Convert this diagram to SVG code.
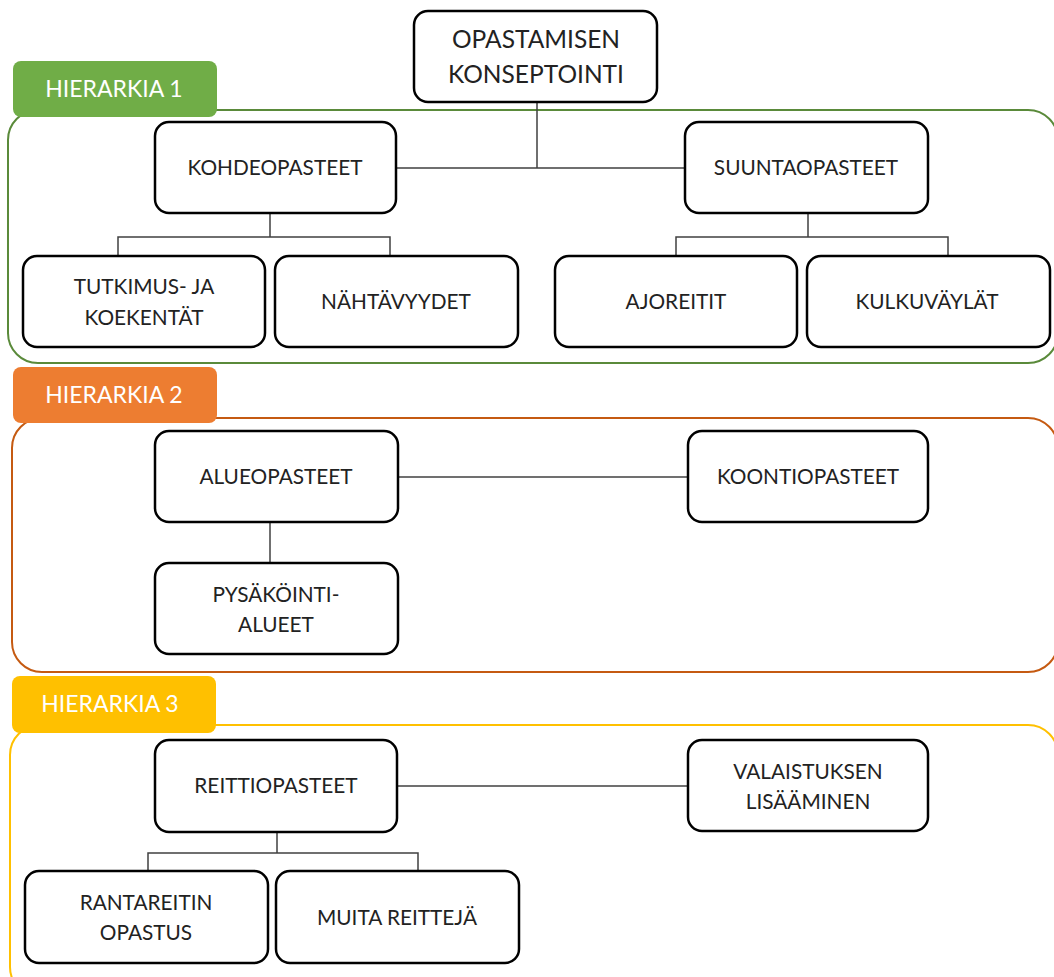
<svg xmlns="http://www.w3.org/2000/svg" width="1054" height="977" viewBox="0 0 1054 977">
<style>
.bg{fill:#ffffff}
.cont{fill:none;stroke-width:2}
.tab{stroke:none}
.tabtxt{font-family:Lato,"Liberation Sans",sans-serif;font-size:23px;fill:#ffffff;text-anchor:middle}
.node rect{fill:#ffffff;stroke:#000000;stroke-width:2.5}
.node text{font-family:Lato,"Liberation Sans",sans-serif;font-size:20.8px;fill:#222222;text-anchor:middle}
.big text{font-size:24.5px}
.conn{fill:none;stroke:#404040;stroke-width:1.5}
</style>
<rect class="bg" x="0" y="0" width="1054" height="977"/>
<g id="containers">
<rect class="cont" x="8" y="110" width="1050" height="253" rx="30" stroke="#5a8a3a"/>
<rect class="cont" x="12" y="418" width="1046" height="254" rx="30" stroke="#c55a11"/>
<rect class="cont" x="10" y="725" width="1048" height="272" rx="30" stroke="#ffc000"/>
</g>
<g id="tab1"><rect class="tab" x="13" y="61" width="204" height="56" rx="8" fill="#70ad47"/><text class="tabtxt" x="114" y="97">HIERARKIA 1</text></g>
<g id="tab2"><rect class="tab" x="13" y="367" width="204" height="56" rx="8" fill="#ed7d31"/><text class="tabtxt" x="114" y="403">HIERARKIA 2</text></g>
<g id="tab3"><rect class="tab" x="12" y="676" width="204" height="57" rx="8" fill="#ffc000"/><text class="tabtxt" x="110" y="712">HIERARKIA 3</text></g>
<g id="connectors">
<path class="conn" d="M537 102 V168 M395 168 H685"/>
<path class="conn" d="M270 213 V237 M118 255 V237 H390 V255"/>
<path class="conn" d="M808 213 V237 M676 255 V237 H948 V255"/>
<path class="conn" d="M398 477 H688"/>
<path class="conn" d="M270 522 V563"/>
<path class="conn" d="M397 786 H688"/>
<path class="conn" d="M277 832 V853 M148 871 V853 H418 V871"/>
</g>
<g id="n-opastamisen" class="node big"><rect x="414" y="11" width="243" height="91" rx="14"/><text x="536" y="48">OPASTAMISEN</text><text x="536" y="83">KONSEPTOINTI</text></g>
<g id="n-kohdeopasteet" class="node"><rect x="155" y="122" width="241" height="91" rx="14"/><text x="275" y="175">KOHDEOPASTEET</text></g>
<g id="n-suuntaopasteet" class="node"><rect x="685" y="122" width="243" height="91" rx="14"/><text x="806" y="175">SUUNTAOPASTEET</text></g>
<g id="n-tutkimus" class="node"><rect x="23" y="256" width="242" height="91" rx="14"/><text x="144" y="294">TUTKIMUS- JA</text><text x="144" y="325">KOEKENTÄT</text></g>
<g id="n-nahtavyydet" class="node"><rect x="275" y="256" width="243" height="91" rx="14"/><text x="396" y="309">NÄHTÄVYYDET</text></g>
<g id="n-ajoreitit" class="node"><rect x="555" y="256" width="242" height="91" rx="14"/><text x="676" y="309">AJOREITIT</text></g>
<g id="n-kulkuvaylat" class="node"><rect x="807" y="256" width="243" height="91" rx="14"/><text x="927" y="309">KULKUVÄYLÄT</text></g>
<g id="n-alueopasteet" class="node"><rect x="155" y="431" width="243" height="91" rx="14"/><text x="276" y="484">ALUEOPASTEET</text></g>
<g id="n-koontiopasteet" class="node"><rect x="688" y="431" width="240" height="91" rx="14"/><text x="808" y="484">KOONTIOPASTEET</text></g>
<g id="n-pysakointi" class="node"><rect x="155" y="563" width="243" height="91" rx="14"/><text x="276" y="602">PYSÄKÖINTI-</text><text x="276" y="632">ALUEET</text></g>
<g id="n-reittiopasteet" class="node"><rect x="155" y="740" width="242" height="92" rx="14"/><text x="276" y="793">REITTIOPASTEET</text></g>
<g id="n-valaistuksen" class="node"><rect x="688" y="740" width="240" height="91" rx="14"/><text x="808" y="779">VALAISTUKSEN</text><text x="808" y="809">LISÄÄMINEN</text></g>
<g id="n-rantareitin" class="node"><rect x="25" y="871" width="243" height="92" rx="14"/><text x="146" y="910">RANTAREITIN</text><text x="146" y="940">OPASTUS</text></g>
<g id="n-muita" class="node"><rect x="276" y="871" width="243" height="92" rx="14"/><text x="397" y="925">MUITA REITTEJÄ</text></g>
</svg>
